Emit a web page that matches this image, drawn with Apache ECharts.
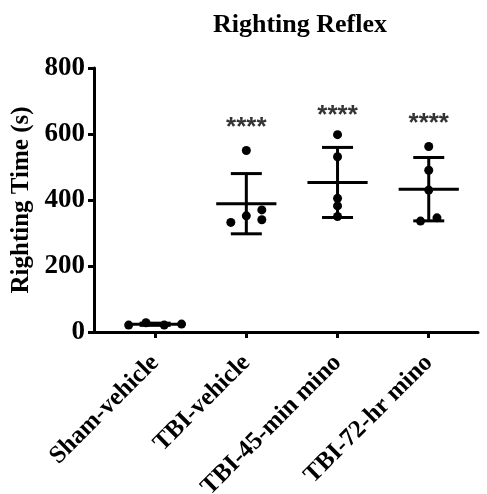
<!DOCTYPE html>
<html><head><meta charset="utf-8">
<script src="https://cdn.jsdelivr.net/npm/echarts@6/dist/echarts.min.js"></script>
<style>html,body{margin:0;padding:0;background:#fff}#c{width:487px;height:494px}</style>
</head><body><div id="c"></div>
<script>
const categories = ['Sham-vehicle', 'TBI-vehicle', 'TBI-45-min mino', 'TBI-72-hr mino'];
const shamValues = [21, 28, 21, 24];
const shamJitter = [-0.29, -0.10, 0.10, 0.29];
const tbiVehicleValues = [332, 352, 370, 340, 550];
const tbiVehicleJitter = [-0.17, 0, 0.17, 0.17, 0];
const tbi45Values = [598, 531, 405, 382, 350];
const tbi45Jitter = [0, 0, 0, 0, 0];
const tbi72Values = [562, 490, 430, 336, 346];
const tbi72Jitter = [0, 0, 0, -0.09, 0.09];
const starLabels = ['', '****', '****', '****'];
const starLevels = [0, 620, 654, 630];
const yTicks = [0, 200, 400, 600, 800];

const groups = [
  [shamValues, shamJitter], [tbiVehicleValues, tbiVehicleJitter],
  [tbi45Values, tbi45Jitter], [tbi72Values, tbi72Jitter]
];
const points = [];
const stats = [];
groups.forEach(([vals, jit], g) => {
  vals.forEach((v, i) => points.push([g + jit[i], v]));
  const n = vals.length;
  const mean = vals.reduce((a, b) => a + b, 0) / n;
  const sd = Math.sqrt(vals.reduce((a, b) => a + (b - mean) * (b - mean), 0) / (n - 1));
  stats.push([g, mean, sd]);
});
const stars = [];
starLabels.forEach((s, g) => { if (s) stars.push({ value: [g, starLevels[g]], name: s }); });

const serif = 'Liberation Serif';
const chart = echarts.init(document.getElementById('c'));
chart.setOption({
  animation: false,
  title: {
    text: 'Righting Reflex', left: 295, top: 7, textAlign: 'center',
    textStyle: { fontFamily: serif, fontWeight: 'bold', fontSize: 26, color: '#000' }
  },
  grid: { left: 94, right: 9, top: 68, bottom: 162, outerBoundsMode: 'none', containLabel: false },
  xAxis: {
    type: 'value', min: -0.67, max: 3.54,
    axisLine: { show: true, onZero: false, lineStyle: { color: '#000', width: 3 } },
    axisTick: { show: true, customValues: [0, 1, 2, 3], length: 6, lineStyle: { color: '#000', width: 3 } },
    axisLabel: {
      customValues: [0, 1, 2, 3], rotate: 45, margin: 27,
      formatter: v => categories[Math.round(v)],
      fontFamily: serif, fontWeight: 'bold', fontSize: 25, color: '#000'
    },
    splitLine: { show: false }
  },
  yAxis: {
    type: 'value', min: yTicks[0], max: yTicks[yTicks.length - 1], interval: 200,
    name: 'Righting Time (s)', nameLocation: 'middle', nameGap: 50, nameRotate: 90,
    nameTextStyle: { fontFamily: serif, fontWeight: 'bold', fontSize: 25, color: '#000' },
    axisLine: { show: true, onZero: false, lineStyle: { color: '#000', width: 3 } },
    axisTick: { show: true, length: 6, lineStyle: { color: '#000', width: 3 } },
    axisLabel: { margin: 9, fontFamily: serif, fontWeight: 'bold', fontSize: 27, color: '#000' },
    splitLine: { show: false }
  },
  series: [
    {
      type: 'custom', data: stats, z: 3,
      renderItem: (params, api) => {
        const g = api.value(0), m = api.value(1), s = api.value(2);
        const style = { stroke: '#000', lineWidth: 3, fill: null };
        const c = (x, y) => api.coord([x, y]);
        const lines = [
          [c(g - 0.33, m), c(g + 0.33, m)],
          [c(g, m - s), c(g, m + s)],
          [c(g - 0.17, m + s), c(g + 0.17, m + s)],
          [c(g - 0.17, m - s), c(g + 0.17, m - s)]
        ];
        return { type: 'group', children: lines.map(p => ({
          type: 'line', shape: { x1: p[0][0], y1: p[0][1], x2: p[1][0], y2: p[1][1] }, style })) };
      }
    },
    {
      type: 'scatter', data: points, symbolSize: 9, z: 4,
      itemStyle: { color: '#000', opacity: 1 }
    },
    {
      type: 'scatter', data: stars, symbolSize: 0, z: 5,
      label: { show: true, position: 'inside', formatter: p => p.name,
        fontFamily: 'Liberation Sans', fontWeight: 'bold', fontSize: 26, color: '#000' }
    }
  ]
});
</script></body></html>
